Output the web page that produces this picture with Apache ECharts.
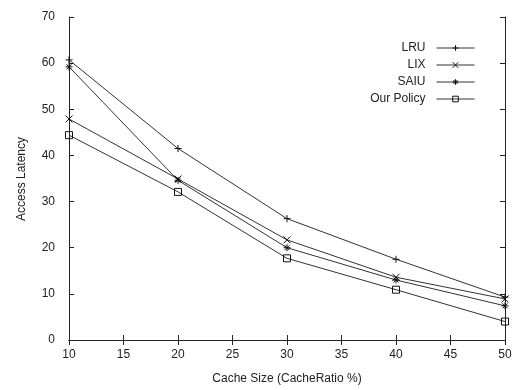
<!DOCTYPE html>
<html><head><meta charset="utf-8">
<script src="https://cdn.jsdelivr.net/npm/echarts@6/dist/echarts.min.js"></script>
<style>html,body{margin:0;padding:0;background:#fff}#c{width:516px;height:390px}</style>
</head><body><div id="c"></div>
<script>
var cacheSizes = [10, 20, 30, 40, 50];
var lru = [60.7, 41.5, 26.3, 17.5, 9.3];
var lix = [47.9, 34.9, 21.7, 13.6, 8.9];
var saiu = [59.2, 34.6, 20.0, 13.0, 7.4];
var ourPolicy = [44.4, 32.1, 17.7, 10.9, 4.0];
var seriesNames = ['LRU', 'LIX', 'SAIU', 'Our Policy'];

var sym = {
  'LRU': 'path://M0,5L10,5M5,0L5,10',
  'LIX': 'path://M1,1L9,9M1,9L9,1',
  'SAIU': 'path://M0,5L10,5M5,0L5,10M1.5,1.5L8.5,8.5M1.5,8.5L8.5,1.5',
  'Our Policy': 'path://M1,1L9,1L9,9L1,9Z'
};
var dataMap = {'LRU': lru, 'LIX': lix, 'SAIU': saiu, 'Our Policy': ourPolicy};
var font = 'Liberation Sans, Arial, Helvetica, sans-serif';
var lineCol = '#333';

function mk(name) {
  return {
    name: name, type: 'line',
    data: cacheSizes.map(function (x, i) { return [x, dataMap[name][i]]; }),
    symbol: sym[name], symbolSize: 7, showSymbol: true,
    lineStyle: {color: lineCol, width: 1},
    itemStyle: {color: 'rgba(0,0,0,0)', borderColor: '#111', borderWidth: 1},
    emphasis: {disabled: true}, animation: false
  };
}

var axisCommon = {
  axisLine: {show: true, lineStyle: {color: '#222', width: 1}},
  axisTick: {show: true, inside: true, length: 5, lineStyle: {color: '#222'}},
  splitLine: {show: false}
};

var chart = echarts.init(document.getElementById('c'), null, {renderer: 'canvas'});
chart.setOption({
  animation: false,
  backgroundColor: '#fff',
  grid: {left: 69, right: 11, top: 17, bottom: 48},
  legend: {
    orient: 'vertical', right: 36, top: 37, align: 'right',
    itemWidth: 38, itemHeight: 7, itemGap: 5,
    itemStyle: {color: 'rgba(0,0,0,0)', borderColor: '#111', borderWidth: 1},
    lineStyle: {color: lineCol, width: 1},
    textStyle: {fontFamily: font, fontSize: 12, color: '#222', padding: [0, 6, 0, 0]},
    data: seriesNames
  },
  xAxis: [
    Object.assign({type: 'value', min: 10, max: 50, interval: 5, position: 'bottom',
      axisLabel: {fontFamily: font, fontSize: 12, color: '#222', margin: 9},
      name: 'Cache Size (CacheRatio %)', nameLocation: 'middle', nameGap: 33,
      nameTextStyle: {fontFamily: font, fontSize: 12, color: '#222'}}, axisCommon),
    Object.assign({type: 'value', min: 10, max: 50, interval: 5, position: 'top',
      axisLabel: {show: false}}, axisCommon)
  ],
  yAxis: [
    Object.assign({type: 'value', min: 0, max: 70, interval: 10, position: 'left',
      axisLabel: {fontFamily: font, fontSize: 12, color: '#222', margin: 14}}, axisCommon),
    Object.assign({type: 'value', min: 0, max: 70, interval: 10, position: 'right',
      axisLabel: {show: false}}, axisCommon)
  ],
  graphic: [{
    type: 'text', left: 16, top: 137, rotation: Math.PI / 2,
    style: {text: 'Access Latency', fontFamily: font, fontSize: 12, fill: '#222',
      align: 'center', verticalAlign: 'middle'}
  }],
  series: seriesNames.map(mk)
});
</script></body></html>
